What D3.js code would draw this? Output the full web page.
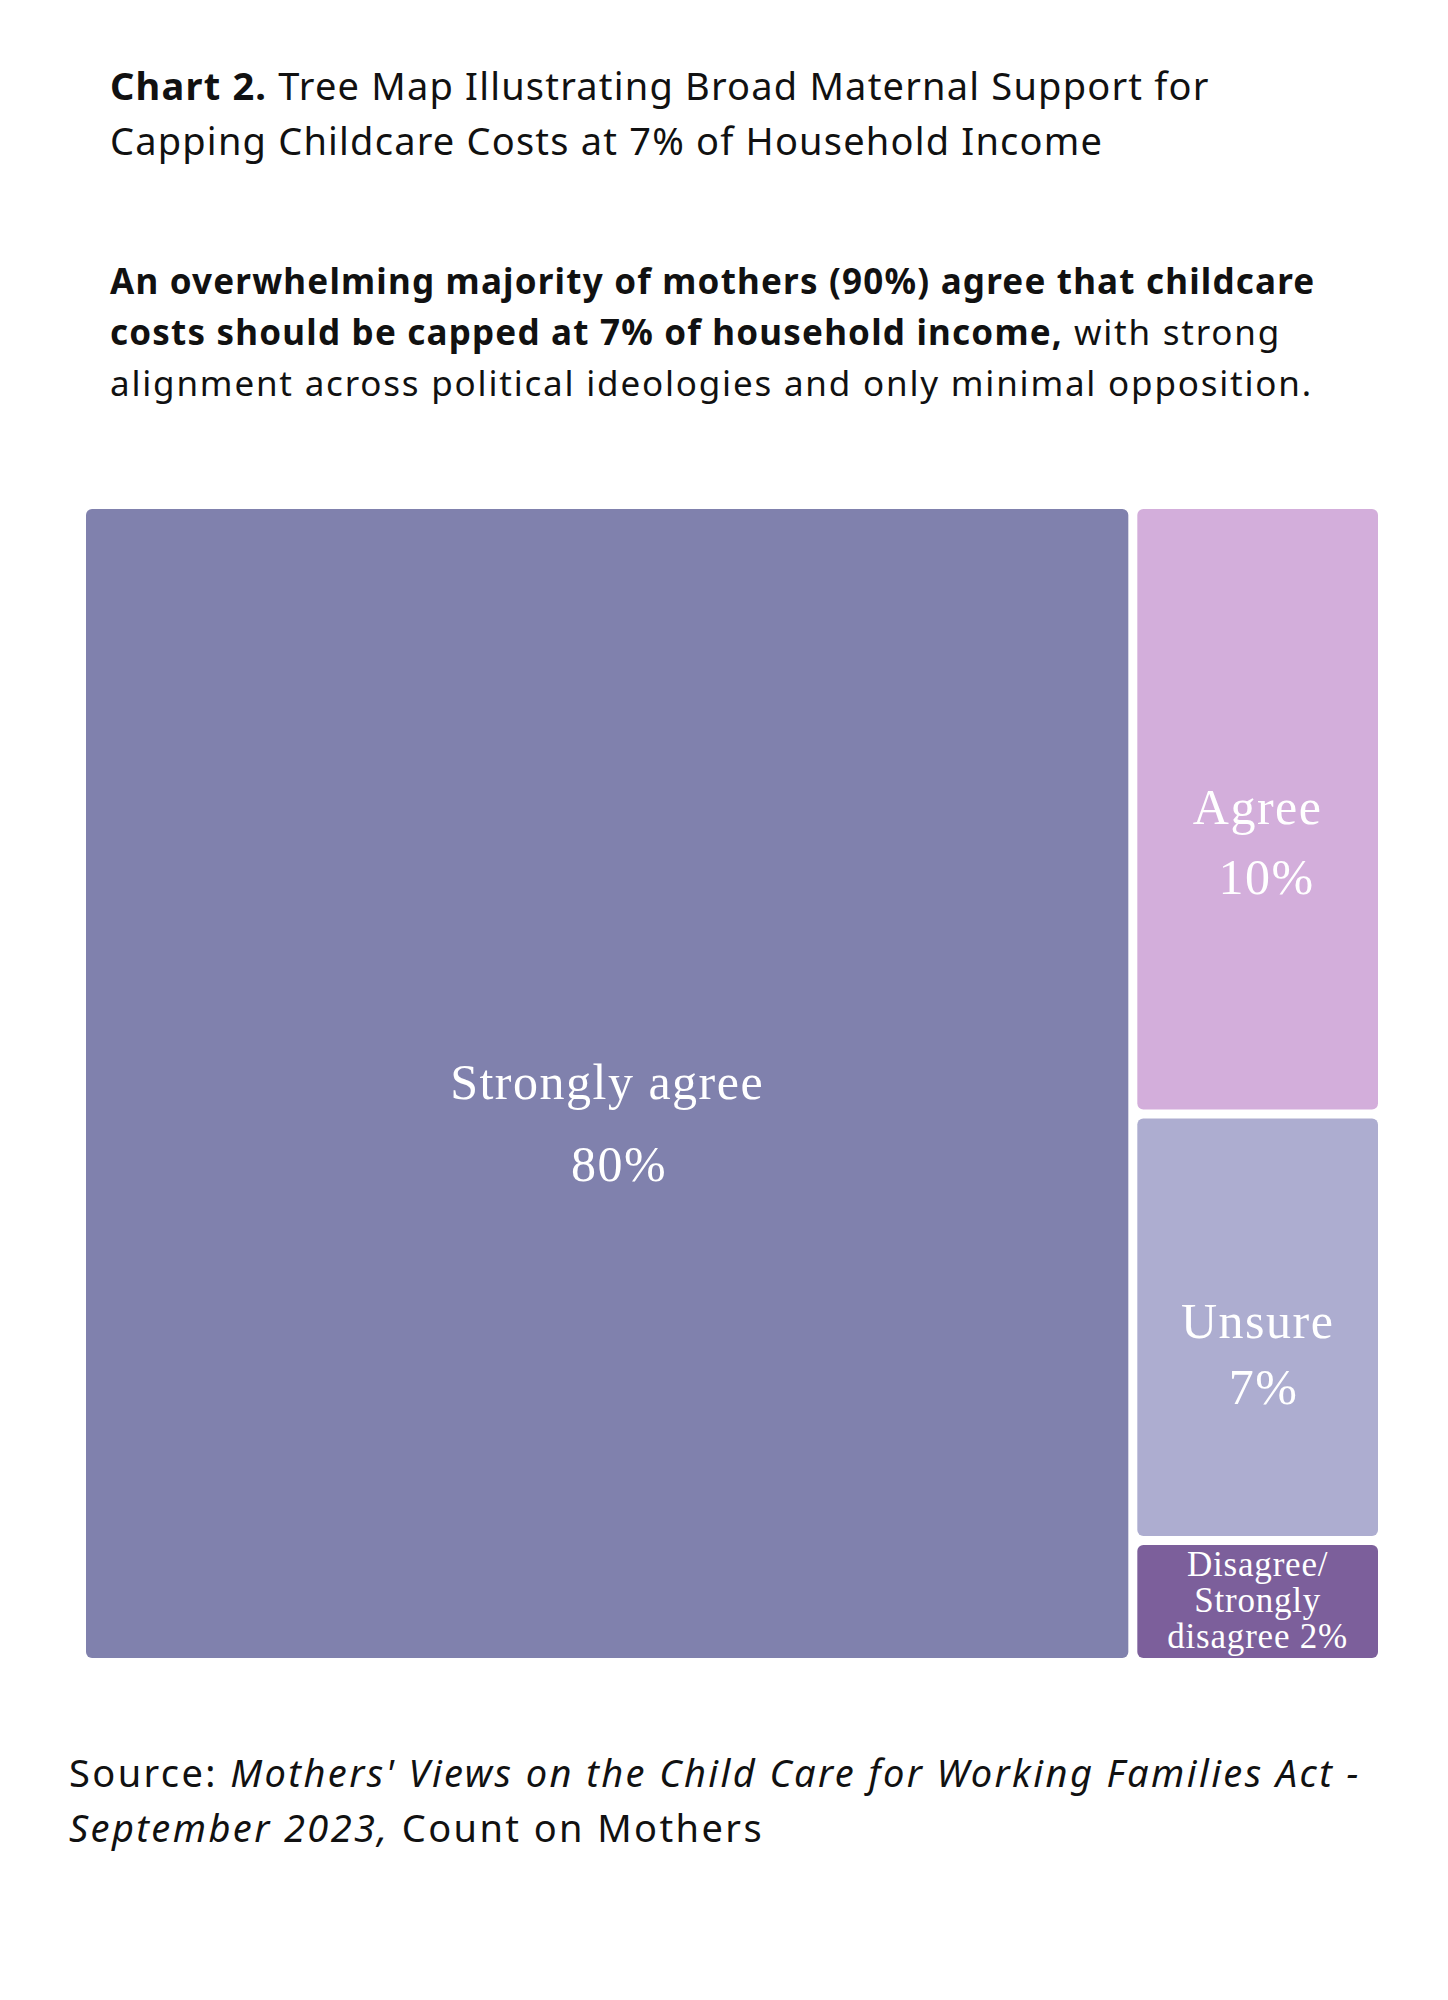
<!DOCTYPE html>
<html>
<head>
<meta charset="utf-8">
<script src="https://cdn.jsdelivr.net/npm/d3@7"></script>
<style>
  body { margin: 0; background: #fff; }
  svg { display: block; }
  .head { font-family: "Noto Sans", sans-serif; fill: #111; }
  .cell-label { font-family: "Liberation Serif", serif; fill: #fff; text-anchor: middle; }
</style>
</head>
<body>
<svg width="1448" height="2000"></svg>
<script>
// data
const categories = ["Strongly agree", "Agree", "Unsure", "Disagree/Strongly disagree"];
const values = [80, 10, 7, 2];
const colors = ["#8081ad", "#d3aedb", "#adadd0", "#7c5f9b"];
// how each label wraps, {v} is the value
const labelRows = [
    ["Strongly agree", "{v}%"],
    ["Agree", "{v}%"],
    ["Unsure", "{v}%"],
    ["Disagree/", "Strongly", "disagree {v}%"]
];

let width = 1448, height = 2000;
let mapLeft = 86, mapTop = 509, mapWidth = 1292, mapHeight = 1149;

// label look per cell (size, line gap, first baseline from center, shift of last line)
const labelStyle = [
    {size: 50, lh: 82, dy: 15, dx: 12},
    {size: 50, lh: 70, dy: 15, dx: 9},
    {size: 50, lh: 66, dy: 11, dx: 6},
    {size: 35, lh: 36, dy: -26, dx: 0}
];

var svg = d3.select("svg");

svg.append("rect")
    .attr("width", width)
    .attr("height", height)
    .attr("fill", "#fff");

// titre
let title = svg.append("text")
    .attr("class", "head")
    .attr("x", 110)
    .attr("y", 100)
    .style("font-size", "38px")
    .style("letter-spacing", "1.2px");
title.append("tspan").attr("font-weight", 700).text("Chart 2.");
title.append("tspan").text(" Tree Map Illustrating Broad Maternal Support for");
svg.append("text")
    .attr("class", "head")
    .attr("x", 110)
    .attr("y", 155)
    .style("font-size", "38px")
    .style("letter-spacing", "1.2px")
    .text("Capping Childcare Costs at 7% of Household Income");

// sous-titre
svg.append("text")
    .attr("class", "head")
    .attr("x", 110).attr("y", 294)
    .style("font-size", "35px")
    .style("letter-spacing", "1.2px")
    .attr("font-weight", 700)
    .text("An overwhelming majority of mothers (90%) agree that childcare");
let sub2 = svg.append("text")
    .attr("class", "head")
    .attr("x", 110).attr("y", 345)
    .style("font-size", "35px");
sub2.append("tspan").attr("font-weight", 700).style("letter-spacing", "1.2px")
    .text("costs should be capped at 7% of household income,");
sub2.append("tspan").style("letter-spacing", "1.8px").text(" with strong");
svg.append("text")
    .attr("class", "head")
    .attr("x", 110).attr("y", 396)
    .style("font-size", "35px")
    .style("letter-spacing", "1.8px")
    .text("alignment across political ideologies and only minimal opposition.");

// treemap : grosse case a gauche, le reste empile a droite
let tree = {
    name: "root",
    children: [
        {name: categories[0], idx: 0, value: values[0]},
        {name: "rest", children: categories.slice(1).map((c, i) => ({name: c, idx: i + 1, value: values[i + 1]}))}
    ]
};

let root = d3.hierarchy(tree)
    .sum(d => d.children ? 0 : d.value);

d3.treemap()
    .size([mapWidth, mapHeight])
    .paddingInner(9)
    .tile((node, x0, y0, x1, y1) => {
        if (node.depth === 0) d3.treemapDice(node, x0, y0, x1, y1);
        else d3.treemapSlice(node, x0, y0, x1, y1);
    })(root);

var mapGroup = svg.append("g")
    .attr("transform", `translate(${mapLeft},${mapTop})`);

let cells = mapGroup.selectAll("g.cell")
    .data(root.leaves())
    .enter()
    .append("g")
    .attr("class", "cell");

cells.append("rect")
    .attr("x", d => d.x0)
    .attr("y", d => d.y0)
    .attr("width", d => d.x1 - d.x0)
    .attr("height", d => d.y1 - d.y0)
    .attr("rx", 6)
    .attr("fill", d => colors[d.data.idx]);

cells.each(function(d) {
    let st = labelStyle[d.data.idx];
    let rows = labelRows[d.data.idx].map(r => r.replace("{v}", values[d.data.idx]));
    let cx = (d.x0 + d.x1) / 2, cy = (d.y0 + d.y1) / 2;
    let t = d3.select(this).append("text")
        .attr("class", "cell-label")
        .style("font-size", st.size + "px")
        .style("letter-spacing", st.size > 40 ? "1.5px" : "0.8px");
    rows.forEach((r, i) => {
        t.append("tspan")
            .attr("x", cx + (i === rows.length - 1 ? st.dx : 0))
            .attr("y", cy + st.dy + i * st.lh)
            .text(r);
    });
});

// source
let src1 = svg.append("text")
    .attr("class", "head")
    .attr("x", 69).attr("y", 1787)
    .style("font-size", "38px")
    .style("letter-spacing", "2.4px");
src1.append("tspan").text("Source: ");
src1.append("tspan").attr("font-style", "italic").text("Mothers' Views on the Child Care for Working Families Act -");
let src2 = svg.append("text")
    .attr("class", "head")
    .attr("x", 69).attr("y", 1842)
    .style("font-size", "38px")
    .style("letter-spacing", "2.4px");
src2.append("tspan").attr("font-style", "italic").text("September 2023,");
src2.append("tspan").text(" Count on Mothers");
</script>
</body>
</html>
